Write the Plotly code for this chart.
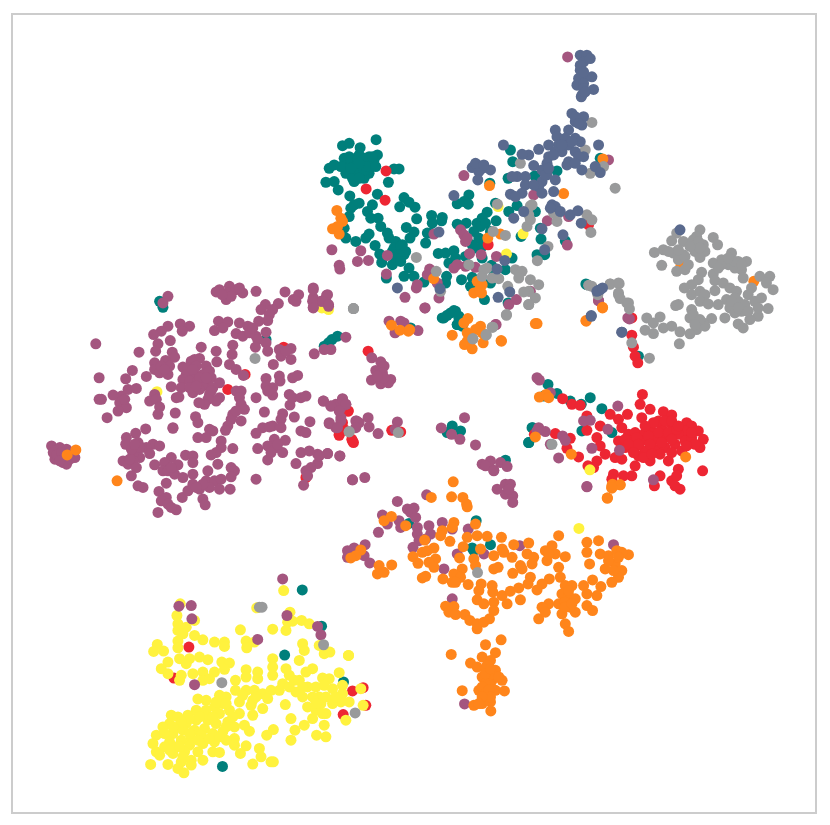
import plotly.graph_objects as go

# Embedding positions. Each list belongs to one area of the
# map and is written in that area's own units (one third of a screen pixel),
# measured from the area's corner listed in AREA_ORIGIN.
AREA_ORIGIN = {"west": (40, 270), "north": (310, 40), "southwest": (140, 570),
               "south": (340, 470), "east": (520, 360), "northeast": (580, 210),
               "center": (320, 300)}

teal_north = [(745,388),(605,325),(612,360),(598,410),(678,403),(875,350),(543,425),(445,487),(480,460),(465,480),(478,488),(560,485),(625,492),(600,510),(680,510),(695,560),(697,593),(637,585),(770,598),(685,640),(708,640),
(535,512),(520,530),(505,545),(515,555),(530,545),(562,538),(472,545),(445,548),(495,570),(510,590),(490,610),(500,620),(520,615),(545,570),(610,650),(388,636),(410,635),(435,628),(440,650),(420,665),(470,645),(520,650),(548,672),(590,685),
(120,345),(150,340),(180,345),(205,340),(110,370),(130,365),(160,365),(190,370),(120,395),(150,395),(180,395),(135,420),(165,410),(100,312),(120,305),(153,318),(201,294),(60,380),(75,370),(50,422),(75,420),(87,445),(122,463),(238,422),(205,458),(270,382),(255,382),(145,380),(135,380),(165,385),(195,355),(110,395),(140,350),(175,365),(105,350),
(135,490),(125,500),(150,485),(175,510),(190,490),(185,530),(207,530),(215,555),(235,575),(240,590),(120,525),(105,560),(110,590),(140,600),(170,590),(180,578),
(285,468),(300,482),(272,496),(318,497),(323,532),(292,558),(315,572),(303,590),(368,522),(400,528),(398,538),(370,545),(365,575),(350,605),(355,575),(198,612),(212,638),(218,663),(250,670),(260,600),(280,610),(265,630),(285,640),(250,630),(270,650),(280,625),
(300,680),(285,705),(315,705),(345,722),(232,710),(413,705),(410,725),(458,715),(490,708),(485,735),(527,775),(545,725),(555,690),(598,785),(405,830),(425,815),(440,810),(445,850),(450,830),(835,730)]
teal_north_core = [(125,355),(145,355),(165,350),(190,345),(115,385),(130,410),(150,410),(170,375),(200,375),(95,375),(150,365),(125,380),(255,620),(275,615),(290,630),(270,640),(260,650),(275,660)]
teal_west = [(360,90),(370,108),(680,205),(878,205),(895,195),(868,215),(855,225)]
teal_center = [(275,80),(370,50),(385,42),(405,28),(420,45),(415,70),(430,75),(400,375),(425,390),(385,395),(560,478),(640,380),(630,425)]
teal_east = [(88,70),(115,97),(155,120),(188,130),(215,110),(250,143),(75,105),(190,210),(280,215),(42,200),(30,245)]
teal_northeast = [(22,218),(180,435)]
teal_south = [(210,158),(412,150),(400,232),(405,240),(455,222)]
teal_southwest = [(489,58),(547,167),(436,254),(613,335),(249,589)]

red_north = [(231,388),(171,442),(228,476),(840,550),(538,610)]
red_west = [(565,355),(617,310),(733,228),(927,420),(900,490),(940,510),(910,455),(800,620)]
red_center = [(147,150),(87,330),(60,403),(98,415),(103,425),(75,385),(218,388),(245,393)]
red_northeast = [(160,320),(160,372),(165,408),(170,435),(178,455)]
red_southwest = [(148,230),(103,323),(640,362),(672,352),(680,405),(612,433)]
red_east = [(132,113),(160,130),(185,133),(372,100),(365,130),(395,145),(435,152),(460,162),(275,160),(327,160),(300,175),(370,170),(205,165),(245,195),(205,208),(235,230),(245,255),(260,280),(290,290),(310,200),
(330,220),(350,215),(380,215),(400,210),(430,200),(460,190),(505,185),(520,195),(540,210),(555,235),(545,260),(500,210),(480,220),(440,230),(410,235),(370,240),(340,240),(300,240),(320,260),(350,260),(380,270),(410,265),(440,260),(470,250),(500,240),(520,230),(460,210),(490,270),(425,280),(395,300),(450,300),(360,285),(310,295),(350,315),(340,345),(315,345),(285,340),(280,355),(420,180),(405,185),
(553,330),(480,325),(460,360),(475,345),(485,385),(470,375),(425,345),(408,375),(208,315),(235,300),(225,320),(47,220),(110,218),(155,232),(145,262),(180,288)]
red_east_core = [(320,235),(355,230),(390,225),(420,215),(450,215),(475,205),(520,215),(530,250),(505,255),(460,235),(430,245),(395,250),(360,250),(330,250),(345,275),(375,290),(400,280),(460,275),(380,195),(440,180),(460,180),(480,195)]

yellow_north = [(568,495),(643,577),(593,638),(38,800),(58,805)]
yellow_west = [(352,362)]
yellow_east = [(214,327)]
yellow_south = [(721,173),(28,555)]
yellow_southwest = [(433,60),(352,112),(122,100),(112,135),(165,150),(115,160),(115,180),(140,170),(130,190),(165,195),(452,125),(445,155),(460,152),(487,150),(510,160),(540,225),(555,250),(572,245),(490,220),(495,240),(480,270),(520,295),(500,305),
(303,178),(400,176),(440,180),(320,212),(322,232),(345,215),(190,208),(115,212),(225,215),(255,215),(255,228),(115,232),(53,222),(42,243),(72,242),(205,268),(180,260),(150,265),(120,265),(85,275),(65,295),
(85,310),(125,315),(120,330),(160,310),(190,305),(190,330),(225,305),(210,325),(140,280),(247,275),(270,278),(255,297),(400,265),(400,290),(320,298),(320,320),(355,305),(355,325),(288,330),(400,315),(430,340),(440,295),(465,330),(480,330),(450,315),
(628,255),(600,307),(665,355),(672,405),(620,450),(630,395),(605,395),(610,345),(610,370),(550,323),(570,325),(530,350),(555,345),(580,355),(505,350),(470,365),(490,380),(540,380),(545,400),(580,400),(505,410),(530,420),(560,430),(520,445),(555,465),(495,465),(467,480),
(438,403),(455,445),(402,478),(382,495),(455,510),(532,495),(560,500),(320,360),(345,360),(370,370),(395,360),(385,385),(340,390),(300,395),(335,405),(370,415),(340,435),(288,360),(240,375),(175,386),(200,390),(260,380),
(250,400),(225,410),(170,420),(200,420),(145,435),(95,435),(115,440),(270,420),(240,430),(205,450),(170,450),(140,460),(90,460),(70,470),(115,470),(300,430),(265,455),(230,460),(195,475),(165,480),(130,480),(100,490),(50,495),(75,490),(315,465),(330,483),(285,470),(250,485),(220,490),(185,495),(155,505),(125,510),(90,515),(40,520),(285,505),(260,510),(225,515),(190,520),(150,525),(110,530),(75,530),(50,545),(60,555),(100,550),(135,545),(175,545),(220,545),(240,547),(285,525),(320,527),(303,550),(360,535),(365,560),(395,575),(402,575),(190,570),(155,570),(155,585),(125,575),(85,583),(115,595),(133,608),(33,583),(340,582)]
yellow_southwest_core = [(200,440),(220,440),(180,440),(150,445),(125,455),(100,470),(150,490),(210,505),(175,510),(240,500),(260,470),(120,530),(90,540),(130,560),(230,395),(260,400),(280,440),(350,380),(310,375),(420,360),(450,350),(490,350),(520,380),(560,380),(590,380),(530,400),(550,430)]

purple_west = [(540,55),(530,62),(570,45),(565,65),(590,55),(610,65),(650,60),(560,85),(575,75),(600,50),(548,70),(737,62),(762,85),(778,70),(770,90),(822,50),(822,80),(822,108),(862,72),(868,105),(845,90),(860,90),(370,95),(385,75),
(678,100),(665,115),(717,97),(700,115),(690,130),(685,148),(658,150),(537,150),(565,152),(525,178),(550,170),(600,155),(625,165),(590,187),(610,195),(630,185),(650,195),(655,205),(640,170),(680,183),(680,215),
(648,228),(685,240),(720,235),(725,255),(755,232),(755,265),(740,240),(580,222),(578,250),(570,280),(590,295),(612,313),(702,280),(422,158),(450,165),(428,180),(385,165),(365,180),(342,190),(392,208),(355,218),(348,240),(398,243),(405,258),
(298,243),(168,218),(485,228),(530,240),(532,272),(465,265),(480,262),(455,270),(430,288),(345,275),(378,268),(345,295),(360,305),(385,310),(390,285),(365,285),(375,295),(278,298),(320,316),(258,323),(178,320),
(445,290),(470,285),(500,285),(510,300),(440,310),(465,310),(490,310),(515,320),(430,325),(450,330),(475,330),(500,335),(540,335),(425,350),(460,365),(490,345),(520,350),(510,370),(395,347),(515,360),(480,355),
(540,380),(530,390),(505,385),(495,400),(478,395),(410,380),(418,378),(590,360),(605,360),(600,380),(605,400),(615,415),(580,430),(605,450),(575,445),(565,465),(558,478),(590,420),(650,380),
(680,322),(680,345),(700,372),(720,315),(722,330),(700,350),(685,360),(760,320),(775,313),(750,370),(752,402),(760,380),(785,380),(800,375),(852,390),(875,405),(910,383),(905,410),(890,400),(920,400),
(675,423),(730,428),(765,438),(725,445),(700,465),(670,470),(650,487),(725,470),(690,468),(812,452),(785,480),(800,485),(870,458),(890,470),(905,440),(950,450),
(245,375),(220,372),(265,355),(290,352),(185,385),(178,385),(240,395),(260,410),(235,420),(202,440),(255,385),(345,370),(330,390),(350,385),(360,408),(355,430),(407,426),(468,437),(475,455),(400,470),(400,472),(318,474),
(288,487),(260,500),(258,520),(295,515),(290,540),(340,520),(360,525),(320,530),(330,548),(300,560),(280,550),(305,530),(250,570),(265,580),(280,570),(290,590),(275,615),(295,645),(310,650),(270,565),
(345,582),(395,560),(438,553),(460,555),(460,575),(375,575),(370,600),(415,582),(405,610),(430,620),(460,610),(385,600),(380,637),(358,662),(428,680),(445,660),(460,640),(480,655),(505,600),(500,630),(525,630),(545,625),(510,650),
(540,655),(572,655),(490,685),(497,702),(380,680),(365,690),(355,725),(385,700),(410,717),(395,710),(475,500),(510,475),(520,480),(500,500),(545,510),(545,530),(530,545),(515,552),(535,580),(580,533),(575,590),(585,600),(575,618),(650,625),
(655,533),(705,505),(685,525),(710,530),(738,508),(730,545),(685,567),(695,545),(715,520),(785,545),(810,540),(835,550),(865,548),(902,555),(770,578),(835,578),(815,590),(800,600),(805,615),(793,643),(940,627),
(35,525),(45,540),(60,530),(80,535),(45,565),(70,575),(75,555),(60,555),(90,545),(105,560),(80,580),(40,545),(920,198),(875,235),(855,235),(825,248)]
purple_west_core = [(480,320),(450,350),(470,345),(500,320),(460,295),(300,530),(275,535),(285,520),(50,552),(65,545),(60,570),(90,565),(395,590),(490,640),(470,650)]
purple_center = [(158,170),(185,182),(195,195),(170,208),(190,215),(215,235),(157,237),(185,248),(208,245),(195,230),(175,225),(210,60),(245,60),(255,65),(228,95),(297,88),(318,20),(530,70),
(13,300),(35,315),(70,295),(80,310),(60,330),(30,365),(65,360),(55,380),(112,360),(120,365),(110,380),(147,350),(150,378),(177,398),(235,363),(228,385),(62,465),(25,458),(0,465),
(437,350),(367,381),(398,400),(423,415),(470,432),(490,490),(515,480),(500,495),(525,508),(545,485),(565,497)]
purple_north = [(777,45),(900,355),(465,402),(675,460),(716,538),(780,525),(776,611),(455,565),(465,580),(470,600),(475,590),(482,637),(517,640),(563,645),(435,680),(445,670),(470,675),(500,678),
(68,625),(155,628),(145,660),(178,657),(90,672),(92,683),(235,642),(232,698),(375,578),(362,683),(355,700),(325,730),(322,740),(385,725),(390,770),(288,768),(623,775),(600,790),(665,750),(348,800),
(12,745),(55,760),(10,780),(40,780),(58,790),(12,800),(562,850),(870,778),(958,830)]
purple_northeast = [(60,268),(153,323)]
purple_east = [(55,50),(62,57),(95,95),(298,135),(405,357),(205,378),(120,291),(220,262),(303,268),(268,205),(195,180),(215,178),(60,200),(80,212),(55,210),(132,225),(140,238),(95,250)]
purple_south = [(40,27),(77,20),(465,0),(475,55),(500,40),(515,40),(500,70),(522,75),(522,95),(510,55),(745,47),(175,92),(263,72),(205,115),(225,112),(215,125),(230,140),(130,133),(118,185),(145,160),(180,150),(185,170),(235,170),(235,190),(270,165),(275,190),(260,205),(240,210),(222,230),(310,155),(340,175),
(355,250),(315,295),(388,175),(435,250),(543,225),(825,222),(340,385),(377,701),(25,240),(45,232),(78,222),(25,260),(75,255),(92,277)]
purple_southwest = [(430,25),(118,107),(155,105),(157,145),(443,135),(535,168),(545,193),(355,207),(165,343)]

orange_west = [(82,552),(108,537),(232,630)]
orange_center = [(217,72),(243,87),(268,90),(272,85),(400,102),(447,52),(435,65),(445,95),(485,75),(470,85),(437,130),(460,143),(493,125),(547,118),(650,67),(490,95),(445,120)]
orange_north = [(883,352),(542,432),(765,456),(575,578),(537,590),(83,507),(95,530),(100,540),(70,562),(90,578),(85,555),(374,712),(505,720),(520,730),(495,755),(518,755),(512,745),(882,798),(833,840),(685,847),(578,900)]
orange_northeast = [(308,162),(527,210),(72,290),(22,328)]
orange_east = [(62,108),(82,100),(90,110),(50,228),(158,280),(502,288),(282,370),(305,372),(280,382),(266,412)]
orange_south = [(343,33),(338,78),(372,80),(383,100),(385,108),(820,45),(845,42),(820,50),(807,82),(277,80),(200,165),(135,150),(157,137),(345,155),(340,170),(310,180),(305,195),(257,208),(333,212),
(285,232),(250,245),(265,240),(222,258),(237,278),(290,265),(270,275),(285,290),(410,160),(415,195),(385,200),(445,197),(373,228),(425,235),(362,262),(488,200),(525,222),(490,235),(465,255),(495,245),(520,260),(570,217),
(405,265),(410,285),(370,295),(345,310),(312,325),(340,335),(365,320),(388,342),(350,335),(250,322),(260,317),(465,295),(478,290),(522,308),(545,285),(565,250),(585,260),(580,280),(575,320),(568,340),(550,295),
(660,195),(640,225),(620,240),(625,270),(660,290),(680,258),(650,250),(630,250),(745,215),(780,210),(745,245),(785,250),(810,255),(835,240),(870,252),(850,245),(800,295),(830,280),(850,300),(840,320),(820,335),(753,280),
(762,328),(735,345),(787,348),(775,375),(745,370),(745,405),(762,420),(632,325),(610,340),(595,358),(665,320),(680,345),(700,345),(670,370),(690,375),(710,385),(660,400),(630,400),(610,410),(600,445),(620,425),(680,395),(670,430),(710,425),(680,460),(690,483),(695,410),
(427,340),(420,360),(460,345),(462,365),(415,388),(435,400),(465,395),(490,375),(515,362),(540,352),(505,400),(545,388),(465,420),(320,407),(345,408),(330,425),(350,432),(378,432),(393,450),(415,475),(415,460),(435,455),(452,445),
(487,508),(440,523),(337,552),(470,547),(430,560),(395,578),(415,590),(455,570),(440,600),(470,600),(490,630),(430,620),(460,630),(420,660),(470,660),(497,662),(440,650),(370,661),(445,680),(405,705),(430,700),(455,695),(456,722),(435,670),(450,620),
(65,238),(50,255),(35,262),(120,285),(115,310),(135,305),(158,283)]
orange_south_core = [(690,360),(680,410),(700,400),(840,260),(825,300),(810,270),(450,640),(440,640),(460,610),(480,620),(430,650),(440,670),(450,660),(455,680),(430,680),(420,700),(440,610),(445,585),(455,595)]

gray_west = [(647,262),(943,112),(930,483)]
gray_center = [(103,22),(462,113),(502,100),(520,78),(563,40),(630,10),(90,392),(238,395)]
gray_north = [(850,242),(845,395),(885,375),(920,440),(830,325),(635,365),(566,488),(665,493),(670,490),(660,520),(655,555),(665,535),(735,515),(745,540),(745,520),(835,520),(850,535),(847,573),(718,615),(686,658),(553,570),(590,582),
(480,670),(525,685),(520,705),(550,710),(570,712),(535,680),(322,648),(382,690),(395,750),(620,685),(640,690),(630,710),(665,715),(690,730),(660,750),(680,770),(660,790),(645,752),(597,735),(593,822),(133,802),(552,858),(532,882),(492,893),(850,735),(905,728),(932,727),(868,760),(930,760),(955,785)]
gray_northeast = [(295,65),(280,88),(315,90),(255,115),(228,123),(285,125),(250,162),(315,130),(300,145),(320,135),(365,55),(355,75),(405,78),(418,100),(345,100),(375,100),(350,120),(380,120),(365,138),(345,85),
(295,180),(320,175),(330,160),(370,183),(360,205),(340,220),(318,230),(340,250),(365,240),(380,250),(365,270),(390,278),(300,280),(292,283),(405,188),(410,208),(435,215),(455,230),(475,240),(410,238),
(405,155),(430,145),(460,125),(450,160),(480,150),(505,150),(490,175),(495,200),(470,170),(545,195),(575,195),(585,235),(565,215),(520,230),(510,250),(480,270),(445,265),(420,280),(455,290),(490,300),(530,270),(550,260),(570,292),(540,315),(515,325),(470,305),(440,320),
(480,338),(495,350),(340,295),(335,320),(355,330),(400,322),(375,335),(380,345),(355,355),(335,368),(345,310),(365,325),(205,320),(245,317),(225,335),(200,357),(225,367),(255,350),(280,345),(305,362),(303,398),(213,441),
(30,222),(95,218),(120,215),(120,245),(125,262),(150,275),(153,293),(57,245),(160,395)]
gray_northeast_core = [(470,260),(500,280),(540,290),(460,270),(480,290),(510,300),(350,340),(430,160),(470,150),(450,140),(490,160),(360,90),(365,110),(335,105),(300,115),(270,120),(420,170)]
gray_east = [(100,250)]
gray_south = [(416,306)]
gray_southwest = [(360,110),(368,110),(553,223),(247,337),(648,428)]

slate_north = [(815,40),(835,40),(825,60),(845,50),(815,85),(830,105),(810,110),(850,105),(805,130),(825,125),(855,143),(820,160),(825,140),(818,165),
(790,215),(825,225),(800,240),(820,250),(740,265),(780,265),(745,285),(770,290),(800,290),(815,300),(780,310),(870,310),(750,310),(720,310),(690,323),(760,330),(800,330),(825,345),(780,360),(740,330),(720,345),(715,365),(675,372),(700,385),(775,370),(820,385),(860,375),(875,393),
(584,310),(660,340),(640,338),(505,370),(490,378),(520,380),(545,385),(510,390),(500,365),(525,370),(507,415),(625,405),(610,405),(650,405),(650,430),(715,400),(700,420),(740,415),(690,435),(640,455),(605,458),(620,465),(700,455),(735,450),(675,430),
(435,462),(730,490),(740,495),(725,500),(755,510),(645,510),(615,530),(785,520),(808,508),(818,545),(700,562),(763,580),(708,625),(588,657),(390,572),(565,683),(393,742),(265,740),(603,752),(568,768),(875,745),(865,750),(848,825),(940,873)]
slate_north_core = [(815,70),(825,90),(830,150),(800,225),(810,245),(790,300),(760,310),(710,400),(720,380),(735,340),(810,345),(800,365)]
slate_northeast = [(305,55),(60,237),(72,230),(38,313),(130,363)]

SERIES = [
    ("#007f7b", {"north": teal_north + teal_north_core, "west": teal_west, "center": teal_center, "east": teal_east, "northeast": teal_northeast, "south": teal_south, "southwest": teal_southwest}),
    ("#ed2633", {"north": red_north, "west": red_west, "center": red_center, "northeast": red_northeast, "southwest": red_southwest, "east": red_east + red_east_core}),
    ("#fff23e", {"north": yellow_north, "west": yellow_west, "east": yellow_east, "south": yellow_south, "southwest": yellow_southwest + yellow_southwest_core}),
    ("#a4567f", {"west": purple_west + purple_west_core, "center": purple_center, "north": purple_north, "northeast": purple_northeast, "east": purple_east, "south": purple_south, "southwest": purple_southwest}),
    ("#ff851b", {"west": orange_west, "center": orange_center, "north": orange_north, "northeast": orange_northeast, "east": orange_east, "south": orange_south + orange_south_core}),
    ("#999a9b", {"west": gray_west, "center": gray_center, "north": gray_north, "northeast": gray_northeast + gray_northeast_core, "east": gray_east, "south": gray_south, "southwest": gray_southwest}),
    ("#5a6a8e", {"north": slate_north + slate_north_core, "northeast": slate_northeast}),
]

fig = go.Figure()
for color, areas in SERIES:
    xs, ys = [], []
    for name, pts in areas.items():
        ox, oy = AREA_ORIGIN[name]
        xs += [ox + p[0] / 3 for p in pts]
        ys += [oy + p[1] / 3 for p in pts]
    fig.add_trace(go.Scatter(x=xs, y=ys, mode="markers",
                             marker=dict(color=color, size=11, line=dict(width=0)),
                             hoverinfo="skip", showlegend=False))

axis = dict(showgrid=False, zeroline=False, showticklabels=False, ticks="",
            showline=True, mirror=True, linecolor="#cccccc", linewidth=1.5)
# The page keeps its default 8 px body margin around the figure.
fig.update_layout(width=814, height=809, paper_bgcolor="white", plot_bgcolor="white",
                  margin=dict(l=5, r=5, t=5, b=5), showlegend=False,
                  xaxis=dict(range=[13, 817], **axis),
                  yaxis=dict(range=[812, 13], **axis))
fig.write_html("out.html")
